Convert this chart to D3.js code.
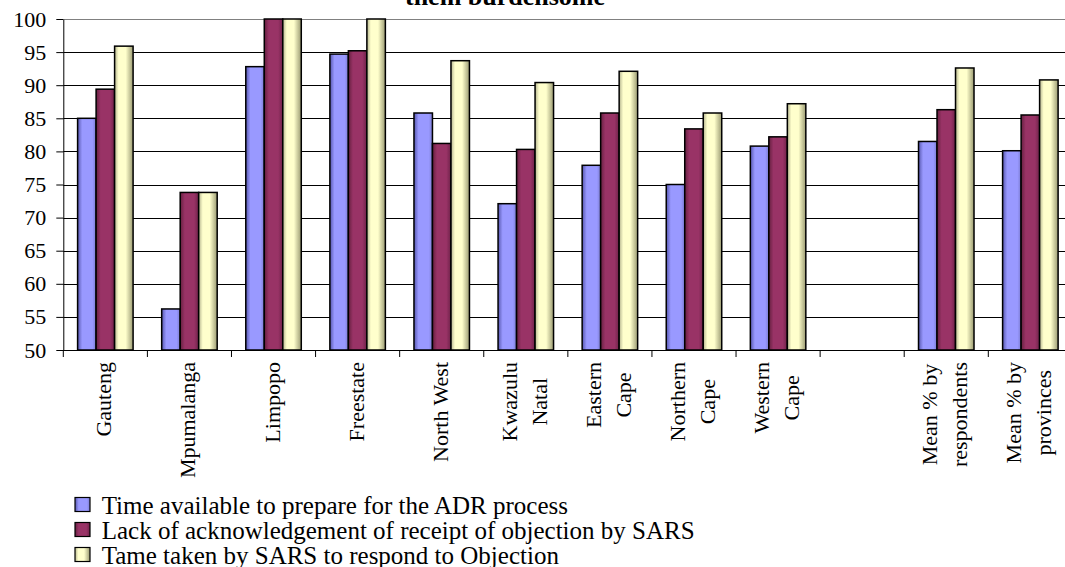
<!DOCTYPE html>
<html>
<head>
<meta charset="utf-8">
<script src="https://cdn.jsdelivr.net/npm/d3@7"></script>
<style>
  html, body { margin: 0; padding: 0; background: #fff; }
  svg { display: block; }
  text { font-family: "Liberation Serif", "Times New Roman", serif; fill: #000; }
</style>
</head>
<body>
<svg id="chart" width="1065" height="567"></svg>
<script>
// Categories along the x axis (the empty one is a spacer column)
const categories = ["Gauteng", "Mpumalanga", "Limpopo", "Freestate", "North West",
  "Kwazulu Natal", "Eastern Cape", "Northern Cape", "Western Cape", "",
  "Mean % by respondents", "Mean % by provinces"];
const categoryLines = [["Gauteng"], ["Mpumalanga"], ["Limpopo"], ["Freestate"], ["North West"],
  ["Kwazulu", "Natal"], ["Eastern", "Cape"], ["Northern", "Cape"], ["Western", "Cape"], [],
  ["Mean % by", "respondents"], ["Mean % by", "provinces"]];

// Percentages per series
const timeAvailable = [85.0, 56.2, 92.8, 94.7, 85.8, 72.1, 77.9, 75.0, 80.8, null, 81.5, 80.1];
const lackOfAcknowledgement = [89.4, 73.8, 100, 95.2, 81.2, 80.3, 85.8, 83.4, 82.2, null, 86.3, 85.5];
const timeTakenToRespond = [95.9, 73.8, 100, 100, 93.7, 90.4, 92.1, 85.8, 87.2, null, 92.6, 90.8];

const seriesNames = ["Time available to prepare for the ADR process",
  "Lack of acknowledgement of receipt of objection by SARS",
  "Tame taken by SARS to respond to Objection"];
const seriesValues = [timeAvailable, lackOfAcknowledgement, timeTakenToRespond];

const yTicks = [50, 55, 60, 65, 70, 75, 80, 85, 90, 95, 100];
const titleTail = "them burdensome";

// Fill gradients: darker left edge, flat middle, shaded right edge
const palette = [
  { id: "g0", stops: [[0, "#5656ae"], [0.25, "#9999ff"], [0.8, "#9999ff"], [1, "#7b7bd0"]] },
  { id: "g1", stops: [[0, "#65203f"], [0.25, "#993366"], [0.75, "#993366"], [1, "#6e2249"]] },
  { id: "g2", stops: [[0, "#b4b48e"], [0.22, "#ffffcc"], [0.6, "#ffffcc"], [1, "#9a9a72"]] }
];

const svg = d3.select("#chart");
const defs = svg.append("defs");
palette.forEach(p => {
  const g = defs.append("linearGradient").attr("id", p.id)
    .attr("x1", 0).attr("x2", 1).attr("y1", 0).attr("y2", 0);
  p.stops.forEach(([o, c]) => g.append("stop").attr("offset", o).attr("stop-color", c));
});

const plotLeft = 63.3, plotRight = 1072.4, plotTop = 19, plotBottom = 350;

const x0 = d3.scaleBand().domain(categories).range([plotLeft, plotRight]).paddingInner(0).paddingOuter(0);
const step = x0.step();
const barW = step * 0.22;
const groupOffset = (step - 3 * barW) / 2;
const x1 = d3.scaleBand().domain(d3.range(3)).range([0, 3 * barW]).padding(0);
const y = d3.scaleLinear().domain([50, 100]).range([plotBottom, plotTop]);

// Horizontal gridlines
svg.append("g").selectAll("line").data(yTicks).join("line")
  .attr("x1", plotLeft).attr("x2", plotRight)
  .attr("y1", d => Math.round(y(d)) + 0.5).attr("y2", d => Math.round(y(d)) + 0.5)
  .attr("stroke", d => d === 100 ? "#808080" : "#000").attr("stroke-width", 1);

// Bars
const groups = svg.append("g").selectAll("g").data(categories).join("g")
  .attr("transform", d => `translate(${x0(d) + groupOffset},0)`);
groups.selectAll("rect")
  .data((d, i) => seriesValues.map((vals, s) => ({ s, v: vals[i] })).filter(o => o.v != null))
  .join("rect")
  .attr("x", d => x1(d.s))
  .attr("width", x1.bandwidth())
  .attr("y", d => y(d.v))
  .attr("height", d => y(50) - y(d.v))
  .attr("fill", d => `url(#g${d.s})`)
  .attr("stroke", "#000").attr("stroke-width", 1.5);

// Y axis
const yAxis = svg.append("g").attr("transform", `translate(${plotLeft},0)`)
  .call(d3.axisLeft(y).tickValues(yTicks).tickSize(7).tickSizeOuter(0).tickPadding(10));
yAxis.selectAll("text").style("font-size", "22px").attr("font-family", null);
yAxis.selectAll("line,path").attr("stroke", "#000");

// X axis line and category boundary ticks
const boundaries = categories.map(c => x0(c)).concat([x0(categories[categories.length - 1]) + step]);
svg.append("line").attr("x1", plotLeft).attr("x2", plotRight)
  .attr("y1", plotBottom + 0.5).attr("y2", plotBottom + 0.5).attr("stroke", "#000");
svg.append("g").selectAll("line").data(boundaries).join("line")
  .attr("x1", d => d).attr("x2", d => d)
  .attr("y1", plotBottom).attr("y2", plotBottom + 7)
  .attr("stroke", "#000");

// Rotated category labels, lines centred on each other, top edge aligned
const labelTop = 362;
const lineGap = 30;
const labelG = svg.append("g").selectAll("g").data(categories).join("g");
labelG.each(function (c, i) {
  const lines = categoryLines[i];
  if (!lines.length) return;
  const g = d3.select(this);
  const cx = x0(c) + step / 2;
  const texts = lines.map((ln, k) => g.append("text")
    .text(ln).style("font-size", "22px").attr("text-anchor", "middle")
    .attr("y", (k - (lines.length - 1) / 2) * lineGap + 6));
  const maxLen = d3.max(texts, t => t.node().getComputedTextLength());
  texts.forEach(t => t.attr("x", -maxLen / 2));
  g.attr("transform", `translate(${cx},${labelTop}) rotate(-90)`);
});

// Legend
const legend = svg.append("g").attr("transform", "translate(75,0)");
const legendBase = [513.5, 538.5, 563.5];
seriesNames.forEach((name, s) => {
  legend.append("rect").attr("x", 0).attr("y", legendBase[s] - 16)
    .attr("width", 15).attr("height", 14)
    .attr("fill", `url(#g${s})`).attr("stroke", "#000").attr("stroke-width", 1.2);
  legend.append("text").attr("x", 26.7).attr("y", legendBase[s])
    .style("font-size", "25px").text(name);
});

// Title (last line)
svg.append("text").attr("x", 505).attr("y", 4.5).attr("text-anchor", "middle")
  .style("font-size", "26px").style("font-weight", "bold").text(titleTail);
</script>
</body>
</html>
